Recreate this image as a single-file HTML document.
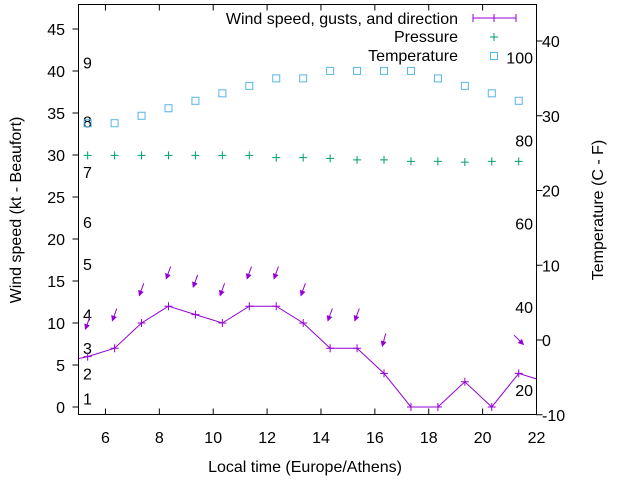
<!DOCTYPE html>
<html><head><meta charset="utf-8"><style>
body{margin:0;background:#fff}
svg text{font-family:"Liberation Sans",sans-serif;font-size:16px;fill:#000}
</style></head><body>
<svg id="c" width="640" height="480" xmlns="http://www.w3.org/2000/svg">
<defs><marker id="ah" markerWidth="6" markerHeight="6" refX="5" refY="3" orient="auto" markerUnits="userSpaceOnUse"><path d="M0,0 L6,3 L0,6 z" fill="#9400d3"/></marker></defs>
<g id="g"></g>
</svg>
<script>
const hours=[5.34,6.34,7.34,8.34,9.34,10.34,11.34,12.34,13.34,14.34,15.34,16.34,17.34,18.34,19.34,20.34,21.34,22.34];
const wind=[6,7,10,12,11,10,12,12,10,7,7,4,0,0,3,0,4,3];
const gusts=[10,11,14,16,15,14,16,16,14,11,11,8,null,null,null,null,8,null];
const dirs=[20,20,20,20,20,20,20,20,20,20,20,15,null,null,null,null,315,null];
const tempC=[29,29,30,31,32,33,34,35,35,36,36,36,36,35,34,33,32];
const pressure=[24.7,24.7,24.7,24.7,24.7,24.7,24.7,24.4,24.4,24.3,24.1,24.1,23.9,23.9,23.8,23.9,23.9];
const xTicks=[6,8,10,12,14,16,18,20,22];
const yTicks=[0,5,10,15,20,25,30,35,40,45];
const y2Ticks=[-10,0,10,20,30,40];
const beaufort=[[1,1],[2,4],[3,7],[4,11],[5,17],[6,22],[7,28],[8,34],[9,41]];
const fahr=[20,40,60,80,100];

const L=78.5,R=536.5,T=4.5,B=414.5;
const X=h=>L+(h-5)*(R-L)/17;
const Y=v=>407-v*(407-29)/45;
const Y2=v=>340-v*(340-41)/40;
const g=document.getElementById('g');
const NS='http://www.w3.org/2000/svg';
function el(t,a,txt){const e=document.createElementNS(NS,t);for(const k in a)e.setAttribute(k,a[k]);if(txt!==undefined)e.textContent=txt;g.appendChild(e);return e;}

const cp=el('clipPath',{id:'cp'});const cr=document.createElementNS(NS,'rect');cr.setAttribute('x',L);cr.setAttribute('y',T);cr.setAttribute('width',R-L);cr.setAttribute('height',B-T);cp.appendChild(cr);

let e=el('rect',{x:L,y:T,width:R-L,height:B-T,fill:'none',stroke:'#000','stroke-width':1});


xTicks.forEach(t=>{const x=X(t);
 el('line',{x1:x,x2:x,y1:B,y2:B-6,stroke:'#000'});el('line',{x1:x,x2:x,y1:T,y2:T+6,stroke:'#000'});
 e=el('text',{x:x,y:443,'text-anchor':'middle'},t);});
yTicks.forEach(t=>{const y=Y(t);
 el('line',{x1:L,x2:L-6,y1:y,y2:y,stroke:'#000'});
 e=el('text',{x:65,y:y+6,'text-anchor':'end'},t);});
y2Ticks.forEach(t=>{const y=Y2(t);
 el('line',{x1:R,x2:R+6,y1:y,y2:y,stroke:'#000'});
 e=el('text',{x:542,y:y+6},t);});
beaufort.forEach(b=>{e=el('text',{x:83,y:Y(b[1])+6},b[0]);});
fahr.forEach(f=>{e=el('text',{x:533,y:Y2((f-32)/1.8)+6,'text-anchor':'end'},f);});

const pg=el('g',{'clip-path':'url(#cp)'});
const pl=document.createElementNS(NS,'polyline');
pl.setAttribute('points',[X(4.34)+','+Y(5.3)].concat(hours.map((h,i)=>X(h)+','+Y(wind[i]))).join(' '));
pl.setAttribute('fill','none');pl.setAttribute('stroke','#9400d3');pl.setAttribute('stroke-width','1');

pg.appendChild(pl);
hours.forEach((h,i)=>{if(h>22)return;const x=X(h),y=Y(wind[i]);
 e=el('path',{d:`M${x-4},${y}H${x+4}M${x},${y-4}V${y+4}`,stroke:'#9400d3'});
 if(gusts[i]!==null){const a=dirs[i]*Math.PI/180,cx=x,cy=Y(gusts[i]),len=13;
  const dx=Math.sin(a)*len/2,dy=-Math.cos(a)*len/2;
  e=el('line',{x1:cx+dx,y1:cy+dy,x2:cx-dx,y2:cy-dy,stroke:'#9400d3','marker-end':'url(#ah)'});
  }
});
tempC.forEach((t,i)=>{const x=X(hours[i]),y=Y2(t);
 e=el('rect',{x:x-3.5,y:y-3.5,width:7,height:7,fill:'none',stroke:'#56b4e9'});});
pressure.forEach((p,i)=>{const x=X(hours[i]),y=Y2(p);
 e=el('path',{d:`M${x-4},${y}H${x+4}M${x},${y-4}V${y+4}`,stroke:'#009e73'});});

e=el('text',{x:458,y:24,'text-anchor':'end'},'Wind speed, gusts, and direction');
el('path',{d:'M473,18H516M473,14V22M516,14V22M494,14V22',stroke:'#9400d3'});
e=el('text',{x:458,y:42,'text-anchor':'end'},'Pressure');
el('path',{d:'M490,37H498M494,33V41',stroke:'#009e73'});
e=el('text',{x:458,y:61,'text-anchor':'end'},'Temperature');
el('rect',{x:490.5,y:52.5,width:7,height:7,fill:'none',stroke:'#56b4e9'});

e=el('text',{x:305,y:472,'text-anchor':'middle'},'Local time (Europe/Athens)');
e=el('text',{x:21,y:210,'text-anchor':'middle',transform:'rotate(-90 21 210)'},'Wind speed (kt - Beaufort)');
e=el('text',{x:603,y:210,'text-anchor':'middle',transform:'rotate(-90 603 210)'},'Temperature (C - F)');
</script>
</body></html>
